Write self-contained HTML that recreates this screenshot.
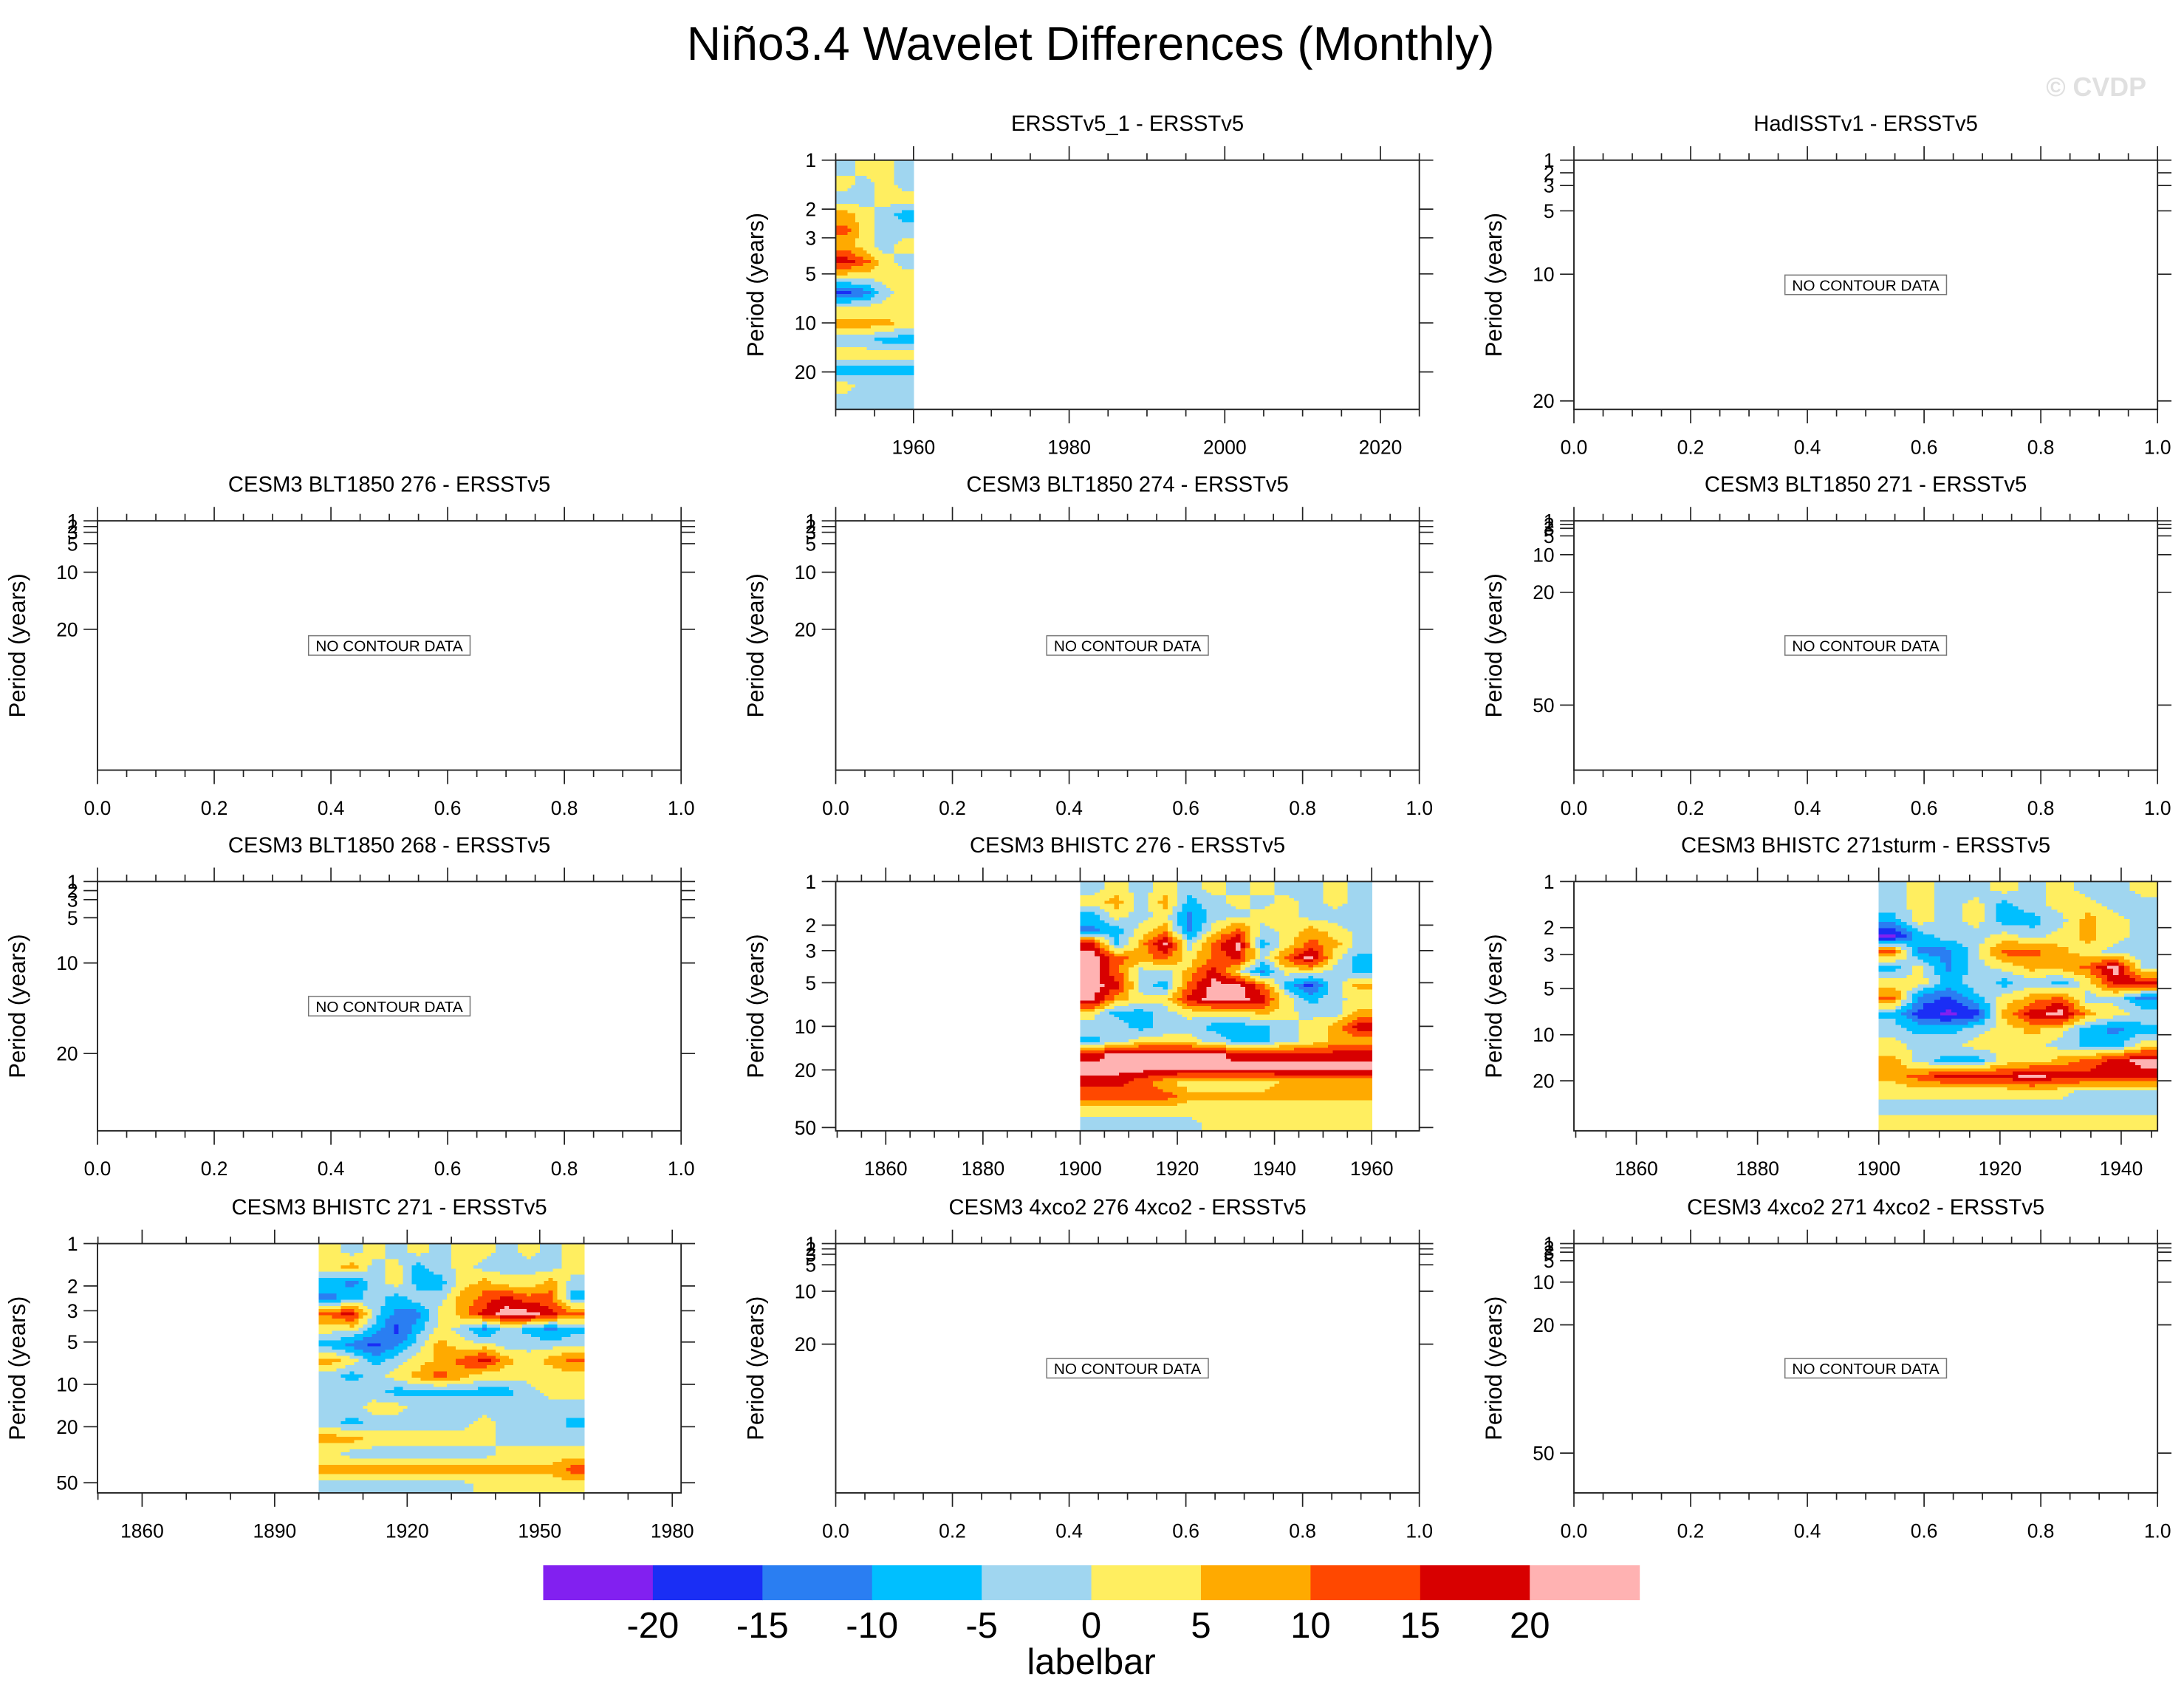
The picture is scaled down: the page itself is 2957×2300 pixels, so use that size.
<!DOCTYPE html>
<html><head><meta charset="utf-8"><style>
html,body{margin:0;padding:0;background:#fff}
svg{display:block}
text{font-family:"Liberation Sans",sans-serif;fill:#000}
</style></head><body>
<svg id="fig" xmlns="http://www.w3.org/2000/svg" width="2957" height="2300" viewBox="0 0 1568 1220" preserveAspectRatio="none">
<rect width="1568" height="1220" fill="#fff"/>
<text x="783" y="43" font-size="34" text-anchor="middle">Niño3.4 Wavelet Differences (Monthly)</text>
<text x="1541" y="69" font-size="19" font-weight="bold" text-anchor="end" style="fill:#e0e0e0">© CVDP</text>
<g id="panels"></g>
<g id="colorbar"></g>
</svg>
<script>
// ---- color levels ----
const levelBounds = [-20,-15,-10,-5,0,5,10,15,20];
const levelColors = ["#8220F0","#1A2EF5","#2A7EF2","#00BFFF","#A0D6F0","#FFEE60","#FFAA00","#FF4800","#D80000","#FFB2B2"];
const colorbarLabels = ["-20","-15","-10","-5","0","5","10","15","20"];

// ---- panel titles ----
const panelTitles = ["ERSSTv5_1 - ERSSTv5","HadISSTv1 - ERSSTv5",
 "CESM3 BLT1850 276 - ERSSTv5","CESM3 BLT1850 274 - ERSSTv5","CESM3 BLT1850 271 - ERSSTv5",
 "CESM3 BLT1850 268 - ERSSTv5","CESM3 BHISTC 276 - ERSSTv5","CESM3 BHISTC 271sturm - ERSSTv5",
 "CESM3 BHISTC 271 - ERSSTv5","CESM3 4xco2 276 4xco2 - ERSSTv5","CESM3 4xco2 271 4xco2 - ERSSTv5"];

// ---- wavelet grids (rows top->bottom = short->long period; cols = time bins) ----
const gridERSST1 = [
[-2,2,2,-2],[2,-2,2,-2],[-2,-2,2,2],[7,2,-2,-7],[12,2,-2,-2],[7,2,-2,2],[17,12,2,-2],[2,2,2,2],
[-17,-12,-2,2],[2,2,2,2],[7,7,7,2],[-2,-2,-7,-7],[2,2,2,2],[-7,-7,-7,-7],[2,-2,-2,-2],[-2,-2,-2,-2]];
const gridBHIST276 = [
[-2,2,-2,2,-2,2,-2,2,-2,-2,2,-2],[2,7,-2,7,-7,-2,2,-2,2,-2,2,-2],[-7,2,-2,2,-12,-2,-2,2,2,-2,-2,-2],
[-12,-7,2,7,-12,2,12,-2,2,7,2,-2],[17,-7,7,22,-2,12,22,-7,2,12,7,-2],[22,12,7,12,2,12,17,-2,12,22,2,-7],
[22,12,-2,-2,7,17,2,-12,2,2,-2,-7],[22,17,-2,-7,12,22,22,12,-7,-17,-2,7],[22,7,2,2,17,22,22,17,2,-7,-2,2],
[2,-7,-7,-2,2,2,2,7,2,-2,-2,7],[-2,-2,-7,-2,-2,-7,-7,-7,-2,2,7,17],[-7,-2,2,2,2,-2,-7,-7,-2,2,7,7],
[17,22,22,22,22,22,17,17,17,17,17,17],[22,22,22,22,22,22,22,22,22,22,22,22],[17,17,12,7,2,2,2,2,7,7,7,7],
[12,12,12,12,7,7,7,7,7,7,7,7],[2,2,2,2,2,2,2,2,2,2,2,2],[-2,-2,-2,-2,-2,2,2,2,2,2,2,2]];
const gridBHIST271sturm = [
[-2,2,-2,-2,2,-2,2,-2,-2,2],[-2,2,-2,2,-7,-2,2,2,-2,-2],[-7,2,-2,2,-7,-7,-2,7,2,-2],[-22,-7,-2,-2,2,-2,2,7,2,-2],
[12,-12,-12,-2,12,12,7,2,-2,-2],[-7,2,-12,-2,2,7,7,12,22,-2],[2,2,-7,-2,-7,-2,-7,2,17,17],[12,-12,-17,-7,2,7,12,-2,-2,-12],
[-7,-17,-22,-17,7,17,22,7,2,-2],[-2,-7,-7,-2,2,7,2,-7,-12,-7],[2,-2,-2,2,2,2,-2,-7,-7,2],[7,-2,-7,-7,2,2,7,12,17,22],
[7,12,17,17,17,22,17,17,17,17],[2,2,2,2,2,2,2,-2,-2,-2],[-2,-2,-2,-2,-2,-2,-2,-2,-2,-2],[2,2,2,2,2,2,2,2,2,2]];
const gridBHIST271 = [
[2,-2,2,-2,2,-2,2,2,-2,2,-2,2],[2,7,-2,2,-7,-2,2,-2,-2,-2,-2,2],[-7,-12,-2,2,-7,-7,2,7,2,2,7,-2],
[-12,-7,-2,-7,-2,-2,7,12,17,12,12,-7],[12,17,-2,-12,-12,2,7,17,22,22,17,12],[2,2,-7,-17,-7,2,-2,-12,-2,-7,-12,-7],
[-7,-12,-17,-12,-2,7,2,2,-2,-2,-2,-2],[7,2,-7,-2,2,7,12,17,7,2,7,12],[-2,-7,-2,2,7,12,7,2,2,2,2,2],
[-2,-2,-2,-7,-7,-7,-7,-7,-7,-2,2,2],[-2,-2,2,2,-2,-2,-2,-2,-2,-2,-2,-2],[-2,-7,-2,-2,-2,-2,-2,2,-2,-2,-2,-7],
[7,7,2,2,2,2,2,2,-2,-2,-2,-2],[2,-2,-2,-2,-2,-2,-2,-2,2,2,2,2],[7,7,7,7,7,7,7,7,7,7,7,12],[-2,-2,-2,-2,-2,-2,-2,2,2,2,2,2]];

// ---- axis tick definitions ----
const yearTicks20 = [1960,1980,2000,2020];
const yearTicks20b = [1860,1880,1900,1920,1940,1960];
const yearTicks30 = [1860,1890,1920,1950,1980];
const fracTicks = [0,0.2,0.4,0.6,0.8,1.0];
const periodTicksA = [1,2,3,5,10,20];
const periodTicksB = [1,2,3,5,10,20,50];

const NS="http://www.w3.org/2000/svg";
function mk(tag,attrs,parent){const e=document.createElementNS(NS,tag);for(const k in attrs)e.setAttribute(k,attrs[k]);if(parent)parent.appendChild(e);return e;}
function colorFor(v){let i=0;while(i<levelBounds.length&&v>=levelBounds[i])i++;return levelColors[i];}
function sampleGrid(grid,u,v){
  const nr=grid.length,nc=grid[0].length;
  u=Math.max(0,Math.min(nr-1,u)); v=Math.max(0,Math.min(nc-1,v));
  const i0=Math.floor(u),j0=Math.floor(v),i1=Math.min(nr-1,i0+1),j1=Math.min(nc-1,j0+1);
  const fu=u-i0,fv=v-j0;
  return (grid[i0][j0]*(1-fv)+grid[i0][j1]*fv)*(1-fu)+(grid[i1][j0]*(1-fv)+grid[i1][j1]*fv)*fu;
}

const colX=[70,600,1130], rowY=[115,374,633,893], PW=419, PH=179;
const panels=[
 {c:1,r:0,t:0,x:{min:1950,max:2025,major:yearTicks20,minor:5},y:{type:'log',max:34,ticks:periodTicksA},grid:gridERSST1,t0:1950,t1:1960},
 {c:2,r:0,t:1,x:{min:0,max:1,major:fracTicks,minor:0.05},y:{type:'lin',k:9.1,ticks:periodTicksA}},
 {c:0,r:1,t:2,x:{min:0,max:1,major:fracTicks,minor:0.05},y:{type:'lin',k:4.1,ticks:periodTicksA}},
 {c:1,r:1,t:3,x:{min:0,max:1,major:fracTicks,minor:0.05},y:{type:'lin',k:4.1,ticks:periodTicksA}},
 {c:2,r:1,t:4,x:{min:0,max:1,major:fracTicks,minor:0.05},y:{type:'lin',k:2.7,ticks:periodTicksB}},
 {c:0,r:2,t:5,x:{min:0,max:1,major:fracTicks,minor:0.05},y:{type:'lin',k:6.5,ticks:periodTicksA}},
 {c:1,r:2,t:6,x:{min:1849.7,max:1969.8,major:yearTicks20b,minor:5},y:{type:'log',max:52.7,ticks:periodTicksB},grid:gridBHIST276,t0:1900,t1:1960},
 {c:2,r:2,t:7,x:{min:1849.7,max:1946,major:[1860,1880,1900,1920,1940],minor:5},y:{type:'log',max:42.4,ticks:periodTicksA},grid:gridBHIST271sturm,t0:1900,t1:1946},
 {c:0,r:3,t:8,x:{min:1849.9,max:1982,major:yearTicks30,minor:10},y:{type:'log',max:59,ticks:periodTicksB},grid:gridBHIST271,t0:1900,t1:1960},
 {c:1,r:3,t:9,x:{min:0,max:1,major:fracTicks,minor:0.05},y:{type:'lin',k:3.8,ticks:periodTicksA}},
 {c:2,r:3,t:10,x:{min:0,max:1,major:fracTicks,minor:0.05},y:{type:'lin',k:3.07,ticks:periodTicksB}}
];
const S=5;
const root=document.getElementById('panels');
panels.forEach((p,pi)=>{
  const X0=colX[p.c], Y0=rowY[p.r];
  const g=mk('g',{},root);
  
  
  const xs=v=>X0+(v-p.x.min)/(p.x.max-p.x.min)*PW;
  const ys=v=>p.y.type==='log'? Y0+Math.log10(v)/Math.log10(p.y.max)*PH : Y0+(v-1)*p.y.k;
  const frac=p.x.max<=1.0001;
  const fmt=v=>frac?v.toFixed(1):String(v);
  const tt=mk('text',{x:X0+PW/2,y:Y0-21,'font-size':15.5,'text-anchor':'middle'},g);
  tt.textContent=panelTitles[p.t];
  
  
  if(p.grid){
    const gg=mk('g',{'shape-rendering':'crispEdges'},g);
    
    
    const nr=p.grid.length, nc=p.grid[0].length;
    const lmax=Math.log10(p.y.max);
    const NR=nr*S, NC=nc*S;
    for(let i=0;i<NR;i++){
      const pa=Math.pow(10,lmax*i/NR), pb=Math.pow(10,lmax*(i+1)/NR);
      const y1=ys(pa),y2=ys(pb);
      const u=(i+0.5)/S-0.5;
      let runStart=0, runColor=null;
      for(let j=0;j<=NC;j++){
        const col = j<NC ? colorFor(sampleGrid(p.grid,u,(j+0.5)/S-0.5)) : null;
        if(col!==runColor){
          if(runColor!==null){
            const ta=p.t0+(p.t1-p.t0)*runStart/NC, tb=p.t0+(p.t1-p.t0)*j/NC;
            const x1=xs(ta),x2=xs(tb);
            const r=mk('rect',{x:x1,y:y1,width:x2-x1+0.4,height:y2-y1+0.4,fill:runColor},gg);
            
            
          }
          runStart=j; runColor=col;
        }
      }
    }
  }
  const fr=mk('rect',{x:X0,y:Y0,width:PW,height:PH,fill:'none',stroke:'#222','stroke-width':1},g);
  
  
  const ax=mk('g',{stroke:'#222','stroke-width':0.9},g);
  
  
  const start=Math.ceil(p.x.min/p.x.minor-1e-6)*p.x.minor;
  for(let v=start; v<=p.x.max+1e-6; v+=p.x.minor){
    const isMaj=p.x.major.some(m=>Math.abs(m-v)<1e-6);
    const L=isMaj?10:5, x=xs(v);
    mk('line',{x1:x,y1:Y0,x2:x,y2:Y0-L},ax);
    mk('line',{x1:x,y1:Y0+PH,x2:x,y2:Y0+PH+L},ax);
  }
  p.x.major.forEach(v=>{
    const t=mk('text',{x:xs(v),y:Y0+PH+32,'font-size':14,'text-anchor':'middle',stroke:'none'},g);
    t.textContent=fmt(v);
    
    
  });
  const ay=mk('g',{stroke:'#222','stroke-width':0.9},g);
  
  
  p.y.ticks.forEach(v=>{
    const y=ys(v); if(y>Y0+PH+0.5) return;
    mk('line',{x1:X0,y1:y,x2:X0-10,y2:y},ay);
    mk('line',{x1:X0+PW,y1:y,x2:X0+PW+10,y2:y},ay);
    const t=mk('text',{x:X0-14,y:y+5,'font-size':14,'text-anchor':'end'},g);
    t.textContent=String(v);
    
    
  });
  const yt=mk('text',{x:0,y:0,'font-size':16.5,'text-anchor':'middle',transform:`translate(${X0-52},${Y0+PH/2}) rotate(-90)`},g);
  yt.textContent='Period (years)';
  
  
  if(!p.grid){
    const cx=X0+PW/2, cy=Y0+PH/2;
    const b=mk('rect',{x:cx-58,y:cy-7,width:116,height:14,fill:'#fff',stroke:'#777','stroke-width':0.8},g);
    
    
    const t=mk('text',{x:cx,y:cy+4.2,'font-size':11,'text-anchor':'middle'},g);
    t.textContent='NO CONTOUR DATA';
    
    
  }
});
const cb=document.getElementById('colorbar');
const cbX=390, cbW=787, cbY=1124, cbH=25, bw=cbW/levelColors.length;
levelColors.forEach((c,i)=>{
  const r=mk('rect',{x:cbX+i*bw,y:cbY,width:bw+0.3,height:cbH,fill:c},cb);
  
  
});
colorbarLabels.forEach((l,i)=>{
  const t=mk('text',{x:cbX+(i+1)*bw,y:cbY+52,'font-size':26,'text-anchor':'middle'},cb);
  t.textContent=l;
  
  
});
const lb=mk('text',{x:cbX+cbW/2,y:1202,'font-size':26,'text-anchor':'middle'},cb);
lb.textContent='labelbar';


</script>
</body></html>
